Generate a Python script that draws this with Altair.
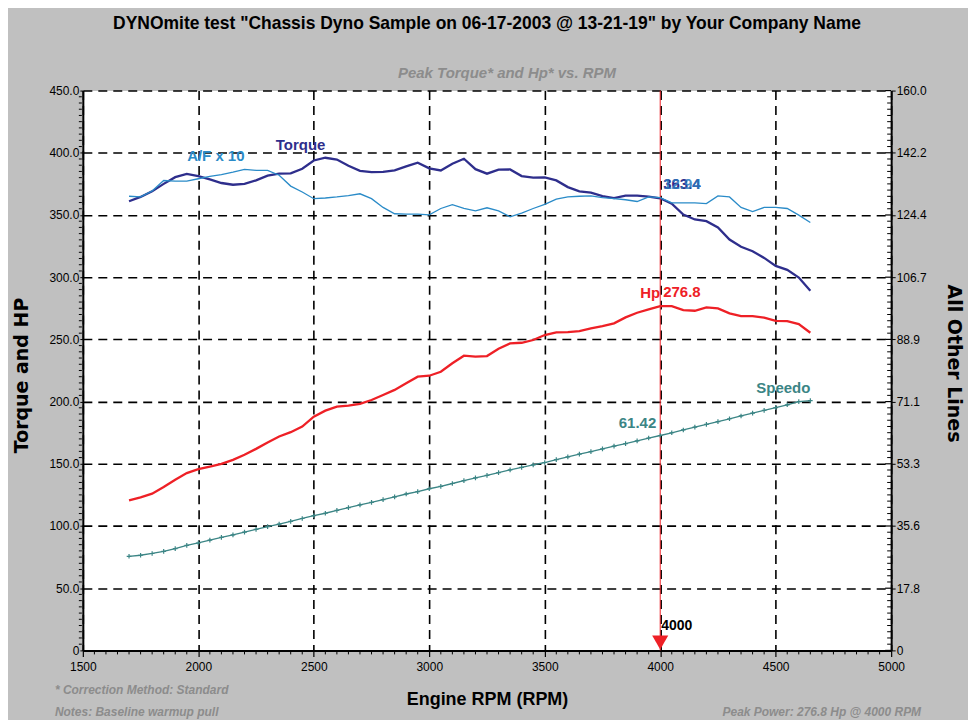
import altair as alt
import pandas as pd

# ---------------- data ----------------
RPM = [1700, 1750, 1800, 1850, 1900, 1950, 2000, 2050, 2100, 2150,
       2200, 2250, 2300, 2350, 2400, 2450, 2500, 2550, 2600, 2650,
       2700, 2750, 2800, 2850, 2900, 2950, 3000, 3050, 3100, 3150,
       3200, 3250, 3300, 3350, 3400, 3450, 3500, 3550, 3600, 3650,
       3700, 3750, 3800, 3850, 3900, 3950, 4000, 4050, 4100, 4150,
       4200, 4250, 4300, 4350, 4400, 4450, 4500, 4550, 4600, 4650]

TORQUE = [361, 364.5, 369, 375, 380.4, 383, 381.3, 378.6, 375.7, 374.3,
          375, 377.8, 381.6, 383.2, 383.4, 387.2, 393.8, 396, 394.6, 389.5,
          385.5, 384.5, 384.6, 385.8, 389, 392, 387.5, 385.8, 391.2, 395.2,
          386.8, 383.2, 386.5, 386.6, 381.3, 380, 380.2, 377.8, 372.4, 369,
          367.9, 365.2, 363.6, 365.5, 365.5, 364.7, 363.4, 359, 350.4, 346.4,
          345, 340, 330.3, 324.4, 320.9, 315.5, 309.1, 305.9, 299.7, 289]

HP = [120.6, 123, 126, 131.3, 137.2, 142.5, 145.7, 147.8, 150, 153.2,
      157.2, 162, 167.1, 171.9, 175.4, 179.9, 187.9, 192.7, 196, 196.8,
      198.1, 201.3, 205.3, 209.4, 214.7, 220, 220.8, 224, 230.8, 236.9,
      236.1, 236.6, 242.5, 246.8, 247.3, 249.5, 253.5, 255.6, 255.9, 256.7,
      258.8, 260.7, 262.9, 267.7, 271.4, 274.1, 276.8, 276.7, 273.5, 273,
      275.7, 274.9, 270.9, 268.7, 268.7, 267.4, 264.9, 264.7, 262.3, 255.3]

AF10 = [129.8, 129.6, 131.3, 134.3, 134.1, 134.1, 134.8, 135.5, 136, 136.7,
        137.5, 137.2, 137.2, 135.8, 132.7, 131, 129.1, 129.3, 129.6, 130,
        130.5, 129.1, 126.6, 124.8, 124.7, 124.7, 124.5, 126.3, 127.4, 126.3,
        125.6, 126.5, 125.6, 123.9, 125, 126.3, 127.5, 129, 129.6, 129.8,
        129.9, 129.4, 129.1, 128.8, 128.3, 129.6, 129.4, 127.9, 127.9, 127.9,
        127.7, 129.9, 129.6, 126.6, 125.4, 126.6, 126.6, 126.3, 124.4, 122.3]

SPEEDO = [26.9, 27.2, 27.7, 28.3, 29.1, 30.0, 30.7, 31.5, 32.3, 33.0,
          33.8, 34.6, 35.4, 36.1, 36.9, 37.7, 38.5, 39.2, 40.0, 40.8,
          41.6, 42.3, 43.1, 43.9, 44.7, 45.4, 46.2, 46.9, 47.7, 48.5,
          49.3, 50.0, 50.8, 51.6, 52.3, 53.0, 53.7, 54.5, 55.3, 56.1,
          56.8, 57.6, 58.4, 59.1, 59.9, 60.7, 61.42, 62.2, 63.0, 63.8,
          64.6, 65.4, 66.2, 67.0, 67.8, 68.6, 69.4, 70.2, 71.1, 71.4]

X_TICKS = [1500, 2000, 2500, 3000, 3500, 4000, 4500, 5000]
YL_TICKS = [0, 50, 100, 150, 200, 250, 300, 350, 400, 450]
YR_TICKS = [160 * i / 9 for i in range(10)]

TITLE = 'DYNOmite test "Chassis Dyno Sample on 06-17-2003 @ 13-21-19" by Your Company Name'
SUBTITLE = "Peak Torque* and Hp* vs. RPM"
NOTE1 = "* Correction Method: Standard"
NOTE2 = "Notes: Baseline warmup pull"
NOTE3 = "Peak Power: 276.8 Hp @ 4000 RPM"

# ---------------- styling ----------------
SANS = "Liberation Sans, Arial, sans-serif"
TORQUE_C = "#2e2e8c"
AF_C = "#2a8bc8"
HP_C = "#ee2026"
SPD_C = "#3b8585"
NOTE_C = "#8c8c8c"
BG = "#c0c0c0"
W, H = 810, 561

df = pd.DataFrame({"rpm": RPM, "torque": TORQUE, "hp": HP, "af": AF10, "speedo": SPEEDO})

ipk = HP.index(max(HP))
pk_rpm = RPM[ipk]

xs = alt.Scale(domain=[1500, 5000], nice=False, zero=False)
yl = alt.Scale(domain=[0, 450], nice=False, zero=False)
yr = alt.Scale(domain=[0, 160], nice=False, zero=False)

x_axis = alt.Axis(values=X_TICKS, format="d", title="Engine RPM (RPM)", orient="bottom",
                  labelFont=SANS, labelFontSize=12, labelColor="black", labelFlush=False,
                  labelPadding=5, tickColor="black", tickSize=6, tickWidth=1.2,
                  domainColor="black", domainWidth=2,
                  grid=True, gridColor="black", gridDash=[9, 6], gridWidth=1.6, gridOpacity=1,
                  titleFont=SANS, titleFontSize=18, titleFontWeight="bold", titleColor="black",
                  titleBaseline="middle", titleY=49, titleX=W / 2)

yl_axis = alt.Axis(values=YL_TICKS, title="Torque and HP", orient="left",
                   labelExpr="datum.value == 0 ? '0' : format(datum.value, '.1f')",
                   labelFont=SANS, labelFontSize=12, labelColor="black", labelPadding=1,
                   labelOverlap=False, labelFlush=False,
                   tickColor="black", tickSize=3, domainColor="black", domainWidth=2,
                   grid=True, gridColor="black", gridDash=[9, 6], gridWidth=1.6, gridOpacity=1,
                   titleFont="DejaVu Sans", titleFontSize=19, titleFontWeight="bold",
                   titleColor="black", titleX=-61, titleY=285, titleBaseline="middle")

yr_axis = alt.Axis(values=YR_TICKS, orient="right", title="All Other Lines",
                   labelExpr="datum.value == 0 ? '0' : format(datum.value, '.1f')",
                   labelFont=SANS, labelFontSize=12, labelColor="black", labelPadding=1,
                   labelOverlap=False, labelFlush=False,
                   tickColor="black", tickSize=4, domainColor="black", domainWidth=2,
                   grid=False,
                   titleFont="DejaVu Sans", titleFontSize=19, titleFontWeight="bold",
                   titleColor="black", titleX=62, titleY=273, titleBaseline="middle")


def X(field):
    return alt.X(field, scale=xs, axis=x_axis)


def YL(field):
    return alt.Y(field, scale=yl, axis=yl_axis)


def YR(field):
    return alt.Y(field, scale=yr, axis=yr_axis)


# ---------------- left-axis layer ----------------
torque_line = alt.Chart(df).mark_line(color=TORQUE_C, strokeWidth=2.3).encode(
    x=X("rpm:Q"), y=YL("torque:Q"))
hp_line = alt.Chart(df).mark_line(color=HP_C, strokeWidth=2.3).encode(
    x=X("rpm:Q"), y=YL("hp:Q"))

pk = df.iloc[[ipk]].assign(zero=0)
peak_rule = alt.Chart(pk).mark_rule(color=HP_C, strokeWidth=1).encode(x=X("rpm:Q"))
peak_tri = alt.Chart(pk).mark_point(shape="triangle-down", filled=True, color=HP_C,
                                    opacity=1, size=260, yOffset=-8).encode(
    x=X("rpm:Q"), y=YL("zero:Q"))
peak_lbl = alt.Chart(pk).mark_text(font=SANS, fontSize=14, fontWeight="bold", color="black",
                                   align="left", baseline="middle", dx=1, dy=-24).encode(
    x=X("rpm:Q"), y=YL("zero:Q"), text=alt.Text("rpm:Q", format="d"))

itq = TORQUE.index(max(TORQUE))
names_left = pd.DataFrame({
    "rpm": [RPM[itq], pk_rpm],
    "v": [TORQUE[itq], HP[ipk]],
    "label": ["Torque", "Hp"],
    "c": [TORQUE_C, HP_C],
})
names_left_txt = alt.Chart(names_left).mark_text(font=SANS, fontSize=15, fontWeight="bold",
                                                 align="right", baseline="middle", dy=-13).encode(
    x=X("rpm:Q"), y=YL("v:Q"), text="label:N", color=alt.Color("c:N", scale=None))
vals_left = pd.DataFrame({
    "rpm": [pk_rpm, pk_rpm],
    "v": [HP[ipk], TORQUE[ipk]],
    "label": [f"{HP[ipk]:.1f}", f"{TORQUE[ipk]:.1f}"],
    "c": [HP_C, TORQUE_C],
})
vals_left_txt = alt.Chart(vals_left).mark_text(font=SANS, fontSize=15, fontWeight="bold",
                                               align="left", baseline="middle", dx=3, dy=-14).encode(
    x=X("rpm:Q"), y=YL("v:Q"), text="label:N", color=alt.Color("c:N", scale=None))

# minor ticks
xminor = pd.DataFrame({"t": [v for v in range(1500, 5001, 50) if v % 500]})
xminor_r = alt.Chart(xminor).mark_rule(color="black", strokeWidth=1).encode(
    x=X("t:Q"), y=alt.value(H + 1), y2=alt.value(H + 4))
ylminor = pd.DataFrame({"t": [v for v in range(0, 451, 5) if v % 50]})
ylminor_r = alt.Chart(ylminor).mark_rule(color="black", strokeWidth=1).encode(
    y=YL("t:Q"), x=alt.value(-4), x2=alt.value(-1))


def free_text(text, x, y, align, size=12, color=NOTE_C):
    return alt.Chart(pd.DataFrame({"t": [text]})).mark_text(
        font=SANS, fontSize=size, fontWeight="bold", fontStyle="italic", color=color,
        align=align, baseline="middle").encode(text="t:N", x=alt.value(x), y=alt.value(y))


left = alt.layer(torque_line, hp_line, peak_rule, peak_tri, peak_lbl, names_left_txt,
                 vals_left_txt, xminor_r, ylminor_r,
                 free_text(SUBTITLE, 425, -18, "center", size=15),
                 free_text(NOTE1, -28, 601, "left"), free_text(NOTE2, -28, 623, "left"),
                 free_text(NOTE3, 840, 623, "right"))

# ---------------- right-axis layer ----------------
af_line = alt.Chart(df).mark_line(color=AF_C, strokeWidth=1.3).encode(
    x=X("rpm:Q"), y=YR("af:Q"))
spd_line = alt.Chart(df).mark_line(color=SPD_C, strokeWidth=1.3).encode(
    x=X("rpm:Q"), y=YR("speedo:Q"))
spd_pts = alt.Chart(df).mark_point(shape="M-1,0L1,0M0,-1L0,1", filled=False, color=SPD_C,
                                   strokeWidth=1.2, size=22, opacity=1).encode(
    x=X("rpm:Q"), y=YR("speedo:Q"))
iaf = AF10.index(max(AF10))
isp = SPEEDO.index(max(SPEEDO))
names_right = pd.DataFrame({
    "rpm": [RPM[iaf], RPM[isp]],
    "v": [AF10[iaf], SPEEDO[isp]],
    "label": ["A/F x 10", "Speedo"],
    "c": [AF_C, SPD_C],
})
names_right_txt = alt.Chart(names_right).mark_text(font=SANS, fontSize=15, fontWeight="bold",
                                                   align="right", baseline="middle", dy=-13).encode(
    x=X("rpm:Q"), y=YR("v:Q"), text="label:N", color=alt.Color("c:N", scale=None))
af_val = alt.Chart(pd.DataFrame({"rpm": [pk_rpm], "v": [AF10[ipk]],
                                 "label": [f"{AF10[ipk] / 10:.2f}"]})).mark_text(
    font=SANS, fontSize=15, fontWeight="bold", color="#2a78bd", opacity=0.85,
    align="left", baseline="middle", dx=3, dy=-14).encode(
    x=X("rpm:Q"), y=YR("v:Q"), text="label:N")
spd_val = alt.Chart(pd.DataFrame({"rpm": [pk_rpm], "v": [SPEEDO[ipk]],
                                  "label": [f"{SPEEDO[ipk]:.2f}"]})).mark_text(
    font=SANS, fontSize=15, fontWeight="bold", color=SPD_C,
    align="right", baseline="middle", dx=-4, dy=-13).encode(
    x=X("rpm:Q"), y=YR("v:Q"), text="label:N")

yrminor = pd.DataFrame({"t": [160 * i / 90 for i in range(91) if i % 10]})
yrminor_r = alt.Chart(yrminor).mark_rule(color="black", strokeWidth=1).encode(
    y=YR("t:Q"), x=alt.value(W - 4), x2=alt.value(W))
yrmajor = pd.DataFrame({"t": YR_TICKS})
yrmajor_r = alt.Chart(yrmajor).mark_rule(color="black", strokeWidth=1.2).encode(
    y=YR("t:Q"), x=alt.value(W - 6), x2=alt.value(W))

right = alt.layer(af_line, spd_line, spd_pts, names_right_txt, af_val, spd_val,
                  yrminor_r, yrmajor_r)

chart = alt.layer(left, right).resolve_scale(y="independent").properties(
    width=W, height=H,
    background=BG,
    padding={"left": 75, "top": 82, "right": 77, "bottom": 69},
    autosize=alt.AutoSizeParams(type="none"),
    title=alt.TitleParams(
        text=TITLE, anchor="middle", frame="group",
        font=SANS, fontSize=17.5, fontWeight="bold", color="black", offset=33,
    ),
).configure_view(fill="white", stroke="transparent")

chart.save("out.html", embed_options={"renderer": "svg", "actions": False})
